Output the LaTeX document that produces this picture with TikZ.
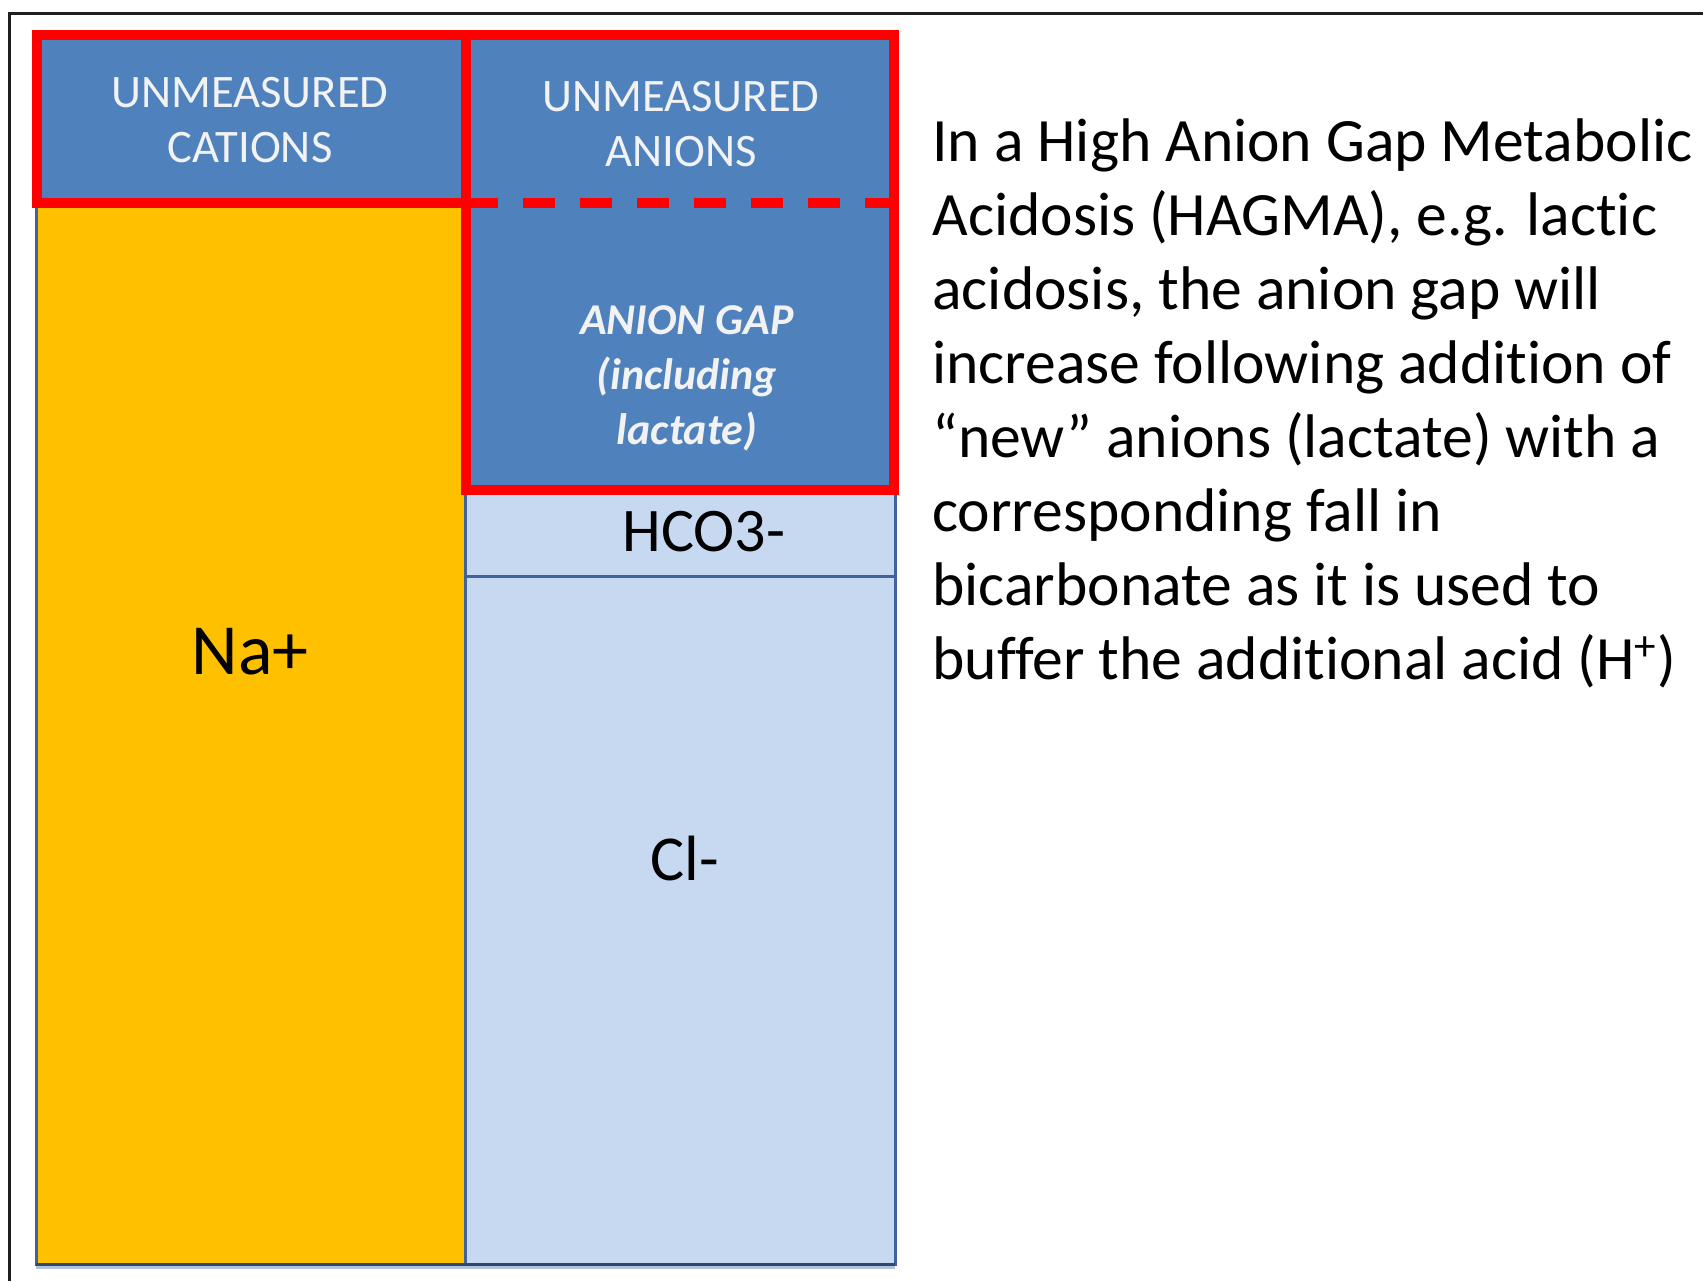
\documentclass[tikz,border=0pt]{standalone}
\usepackage{fontspec}
\setmainfont[RawFeature={-liga;-clig;-calt;-dlig}]{Carlito}
% keep "t" and "i" as separate glyphs
\newcommand{\tisplit}{t\kern0pt i}
\definecolor{nayellow}{HTML}{FFC000}
\definecolor{paleblue}{HTML}{C6D9F1}
\definecolor{midblue}{HTML}{4F81BD}
\definecolor{edgeblue}{HTML}{385D8A}
\definecolor{coledge}{HTML}{3F639A}
\definecolor{hired}{HTML}{FF0000}
\tikzset{
  redbox/.style={draw=hired, line width=5pt, line join=miter},
  bluebox/.style={fill=midblue, draw=edgeblue, line width=1pt},
  headtext/.style={text=white!95!black, align=center, inner sep=0pt,
    font=\fontsize{23.3pt}{27.5pt}\selectfont},
  gaptext/.style={text=white!95!black, align=center, inner sep=0pt,
    font=\fontsize{22pt}{27.5pt}\selectfont\bfseries\itshape},
  iontext/.style={text=black, inner sep=0pt},
  bodytext/.style={text=black, anchor=base west, inner sep=0pt,
    font=\fontsize{30.8pt}{37pt}\selectfont}
}
\begin{document}
\begin{tikzpicture}[x=0.5pt,y=-0.5pt]
\useasboundingbox (0,0) rectangle (1703,1281);
\fill[white] (0,0) rectangle (1703,1281);

% outer frame (top and left edges)
\draw[black!88, line width=1.5pt] (9.5,1281) -- (9.5,13) -- (1703,13);

% columns: cations (left) and anions (right)
\fill[nayellow] (36,204) rectangle (465,1264);
\fill[paleblue] (465,490) rectangle (895,1264);
\fill[black!10!paleblue] (36,1264) rectangle (895,1269);
\draw[coledge, line width=1.5pt] (465,576) -- (895,576);
\draw[coledge, line width=1.5pt] (465,204) -- (465,1264);
\draw[coledge, line width=1.5pt] (36,204) -- (36,1264) -- (895,1264) -- (895,490);
\draw[edgeblue!80!black, line width=1.5pt] (36,1264) -- (895,1264);

% unmeasured ions
\fill[bluebox] (37,35) rectangle (466,203);
\fill[bluebox] (466,35) rectangle (894,490);
\draw[bluebox, fill=none] (37,35) rectangle (466,203);
\draw[bluebox, fill=none] (466,35) rectangle (894,490);

% red outlines and the dashed split of the anion block
\draw[redbox] (37,35) rectangle (466,203);
\draw[redbox] (466,35) rectangle (894,490);
\draw[hired, line width=5pt, dash pattern=on 16pt off 12.5pt] (466,203) -- (894,203);

% labels inside the columns
\node[headtext] (cations) at (250,120) {UNMEASURED\\CATIONS};
\node[headtext] (anions) at (681,124) {UNMEASURED\\ANIONS};
\node[gaptext] (gap) at (687,378) {ANION GAP\\(including\\lactate)};
\node[iontext, font=\fontsize{36pt}{40pt}\selectfont] (na) at (250,652) {Na+};
\node[iontext, font=\fontsize{31pt}{36pt}\selectfont] (hco) at (704,532) {HCO3-};
\node[iontext, font=\fontsize{32pt}{36pt}\selectfont] (cl) at (685,858) {Cl-};

% explanatory text
\foreach \ln [count=\i from 0] in {
  {In a High Anion Gap Metabolic},
  {Acidosis (HAGMA), e.g. lac\tisplit c},
  {acidosis, the anion gap will},
  {increase following addi\tisplit on of},
  {“new” anions (lactate) with a},
  {corresponding fall in},
  {bicarbonate as it is used to},
  {buffer the addi\tisplit onal acid (H\textsuperscript{+})}}
  \node[bodytext] (line\i) at (932,161+74*\i) {\ln};
\end{tikzpicture}
\end{document}
